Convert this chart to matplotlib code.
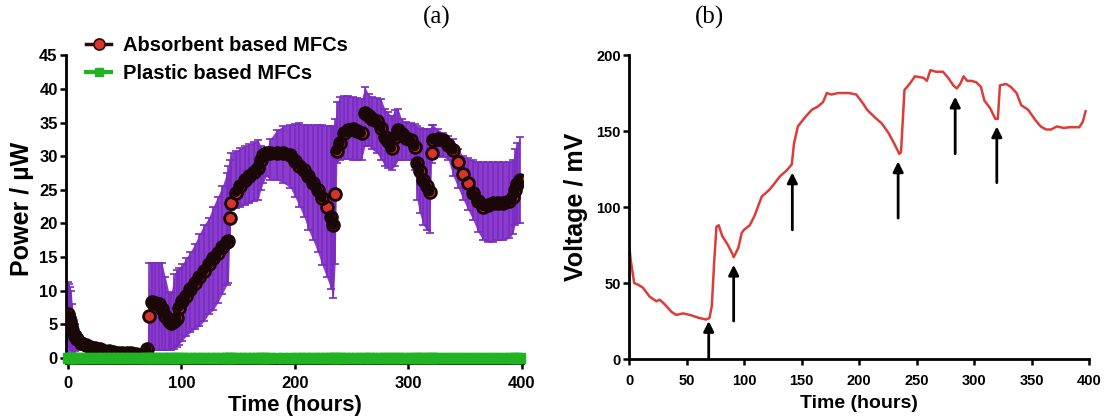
import matplotlib.pyplot as plt
from matplotlib.lines import Line2D
from matplotlib.collections import LineCollection
import numpy as np

plt.rcParams['font.family'] = ['Liberation Sans', 'DejaVu Sans']
plt.rcParams['font.weight'] = 'bold'

# (a) power of absorbent based MFCs: time (h), mean, upper and lower error limits
power_time = [0, 1, 2, 3, 4, 6, 8, 12, 16, 20, 24, 28, 32, 36, 40, 44, 48, 52, 56, 60,
              64, 68, 70, 72, 74, 77, 80, 83, 86, 89, 91, 94, 96, 98, 101, 104, 108, 112,
              116, 120, 124, 128, 132, 136, 140, 141.5, 142.7, 144.2, 148, 152, 156, 160,
              164, 167.7, 170, 172, 175, 178, 184, 190, 196, 200, 204, 208, 212, 216, 220,
              224, 228, 232, 234, 235.5, 237, 240, 243, 247, 251, 255, 258.7, 261.7, 265,
              268, 272, 276, 279.3, 282, 285.2, 288, 291, 294, 298, 302, 305.7, 307.5, 310,
              313, 316, 318.9, 320.4, 322, 326, 330.7, 335, 339.5, 344, 348.3, 352.5, 357,
              361, 365.9, 370, 374.7, 379, 383.5, 389, 392, 394, 396, 398]
power_mean = [6.5, 6.0, 5.5, 4.8, 4.2, 3.3, 2.8, 2.3, 2.0, 1.7, 1.5, 1.3, 1.1, 1.0, 0.9, 0.8, 0.8, 0.7, 0.7, 0.6,
              0.5, 0.6, 1.3, 6.2, 8.3, 8.2, 8.0, 7.3, 6.3, 5.5, 5.2, 5.5, 5.9, 7.5, 8.4, 9.2, 10.2, 11.2,
              12.1, 13.0, 13.9, 14.8, 15.6, 16.5, 17.2, 17.4, 20.8, 23.0, 24.6, 25.6, 26.4, 27.1,
              27.7, 28.2, 29.5, 30.2, 30.4, 30.5, 30.5, 30.5, 30.2, 29.3, 28.6, 27.9, 27.0, 26.0, 25.0,
              23.8, 22.4, 21.0, 19.7, 24.4, 30.8, 32.0, 33.4, 33.9, 34.1, 33.8, 33.4, 36.4, 36.0,
              35.6, 35.2, 34.2, 32.8, 32.3, 31.2, 32.8, 33.9, 33.3, 32.7, 32.4, 31.4, 29.0, 27.8,
              26.4, 25.5, 24.7, 30.4, 32.4, 32.6, 32.4, 31.7, 30.9, 29.2, 27.4, 26.0, 24.5,
              23.4, 22.5, 22.7, 23.0, 23.0, 23.0, 23.3, 24.0, 25.0, 25.8, 26.5]
power_upper = [11.3, 11.0, 10.5, 10.0, 8.0, 5.0, 3.8, 3.0, 2.6, 2.2, 2.0, 1.8, 1.6, 1.4, 1.3, 1.2, 1.2, 1.1, 1.1, 1.0,
               0.9, 1.0, 2.0, 14.1, 14.1, 14.1, 14.1, 14.1, 12.0, 9.8, 9.6, 12.5, 13.1, 13.4, 14.0, 14.8, 15.8, 17.0,
               18.5, 19.8, 20.8, 22.5, 24.0, 25.5, 27.5, 28.5, 29.5, 30.4, 30.8, 31.2, 31.5, 31.8,
               32.1, 32.4, 31.5, 30.8, 31.0, 32.5, 33.9, 34.5, 34.7, 34.8, 34.9, 34.7, 34.6, 34.6, 34.6,
               34.6, 34.5, 34.5, 34.5, 35.5, 38.0, 38.8, 39.0, 39.0, 38.8, 38.6, 38.5, 40.3, 39.2,
               38.8, 38.7, 38.5, 37.0, 36.5, 36.0, 36.8, 37.0, 35.5, 35.1, 35.0, 34.8, 34.5, 34.2,
               34.0, 34.0, 34.0, 34.6, 34.6, 34.0, 33.5, 33.0, 32.5, 31.0, 30.0, 29.7, 29.4,
               29.2, 29.2, 29.2, 29.2, 29.2, 29.2, 29.2, 29.5, 31.0, 32.0, 32.8]
power_lower = [1.7, 1.5, 1.2, 1.0, 0.8, 1.0, 1.2, 1.3, 1.2, 1.1, 1.0, 0.8, 0.7, 0.6, 0.5, 0.4, 0.4, 0.3, 0.3, 0.2,
               0.2, 0.2, 0.6, 1.2, 1.2, 1.2, 1.2, 1.2, 1.2, 1.2, 1.2, 1.4, 1.7, 2.0, 2.6, 3.2, 3.8, 4.3,
               4.7, 5.5, 6.5, 7.1, 8.2, 9.5, 10.8, 11.1, 18.0, 22.0, 22.3, 22.5, 22.8, 23.0,
               23.3, 23.5, 25.0, 26.0, 27.0, 26.5, 26.5, 26.0, 25.3, 24.0, 22.5, 21.0, 19.0, 17.5, 15.8,
               13.8, 12.0, 10.2, 8.9, 14.0, 29.0, 29.5, 29.6, 29.6, 29.4, 29.4, 29.4, 31.5, 31.5,
               31.0, 30.5, 29.5, 28.5, 28.2, 28.0, 28.5, 29.4, 29.4, 29.5, 29.5, 28.0, 23.5, 21.5,
               19.8, 19.0, 18.6, 29.0, 29.9, 30.0, 29.9, 29.5, 27.0, 25.2, 23.5, 22.0, 20.5,
               18.8, 17.5, 17.3, 17.3, 17.5, 17.5, 17.8, 18.5, 19.8, 20.0, 20.0]
# plastic based MFCs gave no power
plastic_power = [0.0] * len(power_time)

# (b) voltage curve: time (h) and voltage (mV)
volt_time = [0, 1.5, 4.5, 7.6, 12, 18, 23.7, 26.7, 31, 37, 41, 47, 53, 61, 67, 70, 72, 74, 76, 78,
             81, 86, 90, 91, 95, 98, 100, 105, 109, 115.5, 121.6, 126, 131, 137, 141.5, 143.5,
             146.8, 153, 159, 164, 168.7, 172, 176, 182, 191.5, 197.6, 203.6, 207, 213.7, 219.8,
             225.8, 230.4, 235, 236.5, 239.5, 244, 248.6, 256, 259, 262, 267, 273, 277.5, 282,
             285, 288, 291, 294, 298, 302, 306, 309, 314, 318.5, 320.7, 322.5, 327.7, 332, 337,
             341, 347, 353.5, 358, 362.6, 367, 372, 378, 383, 391.5, 394.5, 397]
volt_mv = [76, 65, 50, 49, 47, 41, 38, 39, 36, 31, 29, 30, 29, 27, 26, 27, 35, 63, 87, 88,
           81, 75, 69, 67, 73, 83, 85, 88, 94, 107, 111, 115, 120, 124, 128, 142,
           153, 159, 164, 166, 169, 175, 174, 175, 175, 174, 168, 164, 159, 155,
           148.5, 142, 135, 136, 177, 181, 186, 185, 183, 190, 189, 189, 185, 180,
           178, 181, 186, 183, 183, 182, 179, 170, 165, 158, 158, 180, 181, 179, 175,
           167, 164, 157, 153, 151, 151, 153, 152, 152.5, 152.5, 156, 163]

# feeding events marked by arrows: time, tail and head (mV)
arrow_time = [69.3, 91, 142, 234, 283.6, 319.8]
arrow_tail = [0, 25, 85, 92.7, 135, 116]
arrow_head = [25, 62, 122.7, 130, 172.6, 153]

red = '#d8342a'
green = '#22b322'
purple = '#7a2cc0'
dark = '#1a0808'

fig = plt.figure(figsize=(11.08, 4.2), dpi=100)
ax1 = fig.add_axes([0.0596, 0.1348, 0.4125, 0.7336])
ax2 = fig.add_axes([0.5677, 0.1452, 0.4152, 0.7238])

# ---- panel (a) ----
t = np.array(power_time)
mean = np.array(power_mean)
upper = np.array(power_upper)
lower = np.array(power_lower)

ax1.set_xlim(-1.5, 401)
ax1.set_ylim(-0.8, 45)

ax1.fill_between(t, lower, upper, color='#8a3ccc', lw=0, zorder=1)
ax1.errorbar(t, mean, yerr=[mean - lower, upper - mean], fmt='none',
             ecolor=purple, elinewidth=1.2, capsize=3, capthick=1.2, zorder=2)
ax1.plot(t, plastic_power, color=green, lw=7, marker='s', ms=7,
         mec=green, zorder=5, clip_on=False)

# red faces first, then dark rims; neighbouring points that sit close on screen
# are bridged by a dark band so the dense runs read as a dark trace
ax1.plot(t, mean, ls='none', marker='o', ms=8.5, mfc=red, mec='none', zorder=3)
pts = ax1.transData.transform(np.column_stack([t, mean]))
gap = np.hypot(*np.diff(pts, axis=0).T)
segs = [[(t[i], mean[i]), (t[i + 1], mean[i + 1])] for i in range(len(t) - 1) if gap[i] < 9.5]
ax1.add_collection(LineCollection(segs, colors=dark, linewidths=6.5, capstyle='round', zorder=3.5))
ax1.plot(t, mean, ls='none', marker='o', ms=8.5, mfc='none', mec=dark, mew=2.0, zorder=4)

ax1.set_xticks([0, 100, 200, 300, 400])
ax1.set_yticks(np.arange(0, 46, 5))
ax1.set_xlabel('Time (hours)', fontsize=16, fontweight='bold', labelpad=3)
ax1.set_ylabel('Power / µW', fontsize=18, fontweight='bold', labelpad=4)
ax1.tick_params(labelsize=12, width=1.8, length=4)
ax1.tick_params(axis='x', pad=5)
ax1.tick_params(axis='y', pad=2)

legend_handles = [
    Line2D([], [], color='#2a0a0a', lw=2.5, marker='o', ms=8, mfc=red, mec='#2a0a0a', mew=1.2),
    Line2D([], [], color=green, lw=3, marker='s', ms=6, mfc=green, mec=green),
]
ax1.legend(legend_handles, ['Absorbent based MFCs', 'Plastic based MFCs'],
           loc='upper left', bbox_to_anchor=(0.078, 0.915), bbox_transform=fig.transFigure,
           frameon=False, fontsize=14.5, handlelength=1.2, handletextpad=0.6,
           labelspacing=0.45, borderaxespad=0, borderpad=0)

# ---- panel (b) ----
ax2.plot(volt_time, volt_mv, color='#dc3d38', lw=1.8)
for x, y0, y1 in zip(arrow_time, arrow_tail, arrow_head):
    ax2.annotate('', xy=(x, y1), xytext=(x, y0),
                 arrowprops=dict(arrowstyle='-|>,head_length=0.6,head_width=0.3',
                                 color='black', lw=2.0, shrinkA=0, shrinkB=0),
                 annotation_clip=False)

ax2.set_xlim(0, 400)
ax2.set_ylim(0, 200)
ax2.set_xticks(np.arange(0, 401, 50))
ax2.set_yticks(np.arange(0, 201, 50))
ax2.set_xlabel('Time (hours)', fontsize=14, fontweight='bold', labelpad=5)
ax2.set_ylabel('Voltage / mV', fontsize=18, fontweight='bold', labelpad=6)
ax2.tick_params(labelsize=10.5, width=1.8, length=4)
ax2.tick_params(axis='x', pad=7)
ax2.tick_params(axis='y', pad=2)

for ax in (ax1, ax2):
    ax.spines['top'].set_visible(False)
    ax.spines['right'].set_visible(False)
    ax.spines['left'].set_linewidth(2)
    ax.spines['bottom'].set_linewidth(2)
    for lab in ax.get_xticklabels() + ax.get_yticklabels():
        lab.set_fontweight('bold')

# panel tags
fig.text(437 / 1108, 1 - 17 / 420, '(a)', family='Liberation Serif', fontweight='normal',
         fontsize=18, ha='center', va='center')
fig.text(709 / 1108, 1 - 17 / 420, '(b)', family='Liberation Serif', fontweight='normal',
         fontsize=18, ha='center', va='center')

fig.savefig('out.png', dpi=100)
